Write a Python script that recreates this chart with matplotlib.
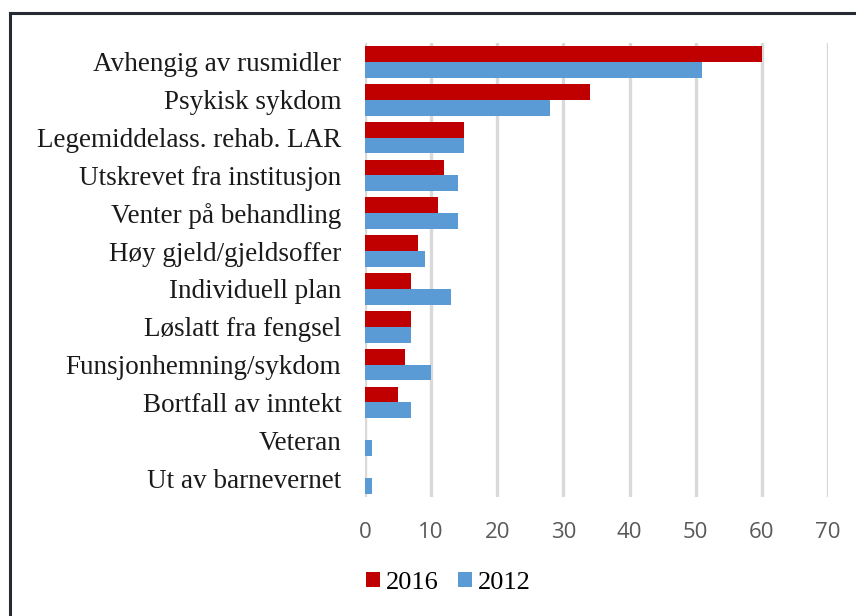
import numpy as np
import matplotlib
matplotlib.use("Agg")
import matplotlib.pyplot as plt
from matplotlib.lines import Line2D

# data (top to bottom as shown)
categories = ["Avhengig av rusmidler", "Psykisk sykdom", "Legemiddelass. rehab. LAR",
              "Utskrevet fra institusjon", "Venter på behandling", "Høy gjeld/gjeldsoffer",
              "Individuell plan", "Løslatt fra fengsel", "Funsjonhemning/sykdom",
              "Bortfall av inntekt", "Veteran", "Ut av barnevernet"]
values_2016 = [60, 34, 15, 12, 11, 8, 7, 7, 6, 5, 0, 0]
values_2012 = [51, 28, 15, 14, 14, 9, 13, 7, 10, 7, 1, 1]
x_ticks = [0, 10, 20, 30, 40, 50, 60, 70]

red = "#C00000"
blue = "#5B9BD5"

fig = plt.figure(figsize=(8.56, 6.16), dpi=100)
ax = fig.add_axes([365/856, 1 - 497/616, (828-365)/856, (497-43)/616])

y = np.arange(len(categories))
h = 0.42
ax.barh(y - h/2, values_2016, height=h, color=red, label="2016", zorder=3)
ax.barh(y + h/2, values_2012, height=h, color=blue, label="2012", zorder=3)

ax.set_ylim(len(categories) - 0.5, -0.5)
ax.set_xlim(0, 70)
ax.set_xticks(x_ticks)
ax.set_xticklabels([str(t) for t in x_ticks], fontfamily="Open Sans", fontsize=16, color="#595959")
ax.set_yticks(y)
ax.set_yticklabels(categories, fontfamily="Liberation Serif", fontsize=19.5, color="#1a1a1a")
ax.tick_params(axis="both", length=0)
ax.tick_params(axis="x", pad=18)
ax.tick_params(axis="y", pad=17)
ax.grid(axis="x", color="#D9D9D9", linewidth=2.4, zorder=0)
for s in ax.spines.values():
    s.set_visible(False)

leg = fig.legend(loc="center left", bbox_to_anchor=(345/856, 1 - 583/616), ncol=2, frameon=False,
                 prop={"family": "Liberation Serif", "size": 19}, handlelength=0.53, handleheight=0.53,
                 handletextpad=0.23, columnspacing=0.72, borderpad=0.3)

# frame around chart (top and left edge visible)
fig.add_artist(Line2D([10/856, 10/856], [0, 1 - 13/616], transform=fig.transFigure, color="#252A33", linewidth=2.2))
fig.add_artist(Line2D([10/856, 1], [1 - 13/616, 1 - 13/616], transform=fig.transFigure, color="#252A33", linewidth=2.2))

fig.savefig("out.png", dpi=100)
